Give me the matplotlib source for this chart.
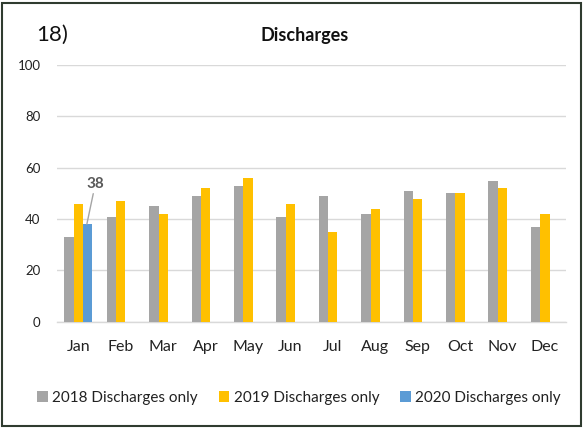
import numpy as np
import matplotlib
matplotlib.use("Agg")
import matplotlib.pyplot as plt
from matplotlib.patches import Rectangle

plt.rcParams['font.family'] = ['Lato', 'DejaVu Sans']

months = ['Jan', 'Feb', 'Mar', 'Apr', 'May', 'Jun', 'Jul', 'Aug', 'Sep', 'Oct', 'Nov', 'Dec']
d2018 = [33, 41, 45, 49, 53, 41, 49, 42, 51, 50, 55, 37]
d2019 = [46, 47, 42, 52, 56, 46, 35, 44, 48, 50, 52, 42]
d2020 = [38]
yticks = [0, 20, 40, 60, 80, 100]

c18 = '#a5a5a5'
c19 = '#ffc000'
c20 = '#5b9bd5'

fig = plt.figure(figsize=(5.83, 4.28), dpi=100)
ax = fig.add_axes([0.098, 0.248, 0.873, 0.600])

x = np.arange(len(months))
w = 0.22
ax.bar(x - w, d2018, w, color=c18, label='2018 Discharges only', zorder=3)
ax.bar(x, d2019, w, color=c19, label='2019 Discharges only', zorder=3)
ax.bar(x[:len(d2020)] + w, d2020, w, color=c20, label='2020 Discharges only', zorder=3)

ax.set_xlim(-0.5, len(months) - 0.5)
ax.set_ylim(0, 100)
ax.set_yticks(yticks)
ax.set_xticks(x)
ax.set_xticklabels(months, fontsize=11.5, color='#222222')
ax.tick_params(axis='y', labelsize=9.5, colors='#222222', length=0, pad=12)
ax.tick_params(axis='x', length=0, pad=13)
ax.grid(axis='y', color='#d9d9d9', lw=1, zorder=0)
for s in ['top', 'right', 'left']:
    ax.spines[s].set_visible(False)
ax.spines['bottom'].set_color('#d9d9d9')
ax.spines['bottom'].set_linewidth(1)

# data label for 2020 Jan
ax.annotate(str(d2020[0]), xy=(x[0] + w - 0.02, d2020[0]), xytext=(x[0] + w + 0.18, 51),
            ha='center', va='bottom', fontsize=11, fontweight='bold', color='#595959',
            arrowprops=dict(arrowstyle='-', color='#a5a5a5', lw=1, shrinkA=0, shrinkB=0))

fig.text(0.523, 0.918, 'Discharges', ha='center', va='center', fontsize=13, fontweight='bold', color='#111111')
fig.text(0.062, 0.918, '18)', ha='left', va='center', fontsize=16, color='#111111')

fig.legend(loc='center', bbox_to_anchor=(0.513, 0.07), ncol=3, frameon=False,
           fontsize=11, handlelength=0.7, handleheight=0.7, handletextpad=0.3,
           columnspacing=1.35, labelcolor='#222222')

fig.patches.append(Rectangle((0.004, 0.004), 0.992, 0.990, transform=fig.transFigure,
                             fill=False, edgecolor='#2f3b2f', lw=1.5))

fig.savefig('out.png', dpi=100, facecolor='white')
